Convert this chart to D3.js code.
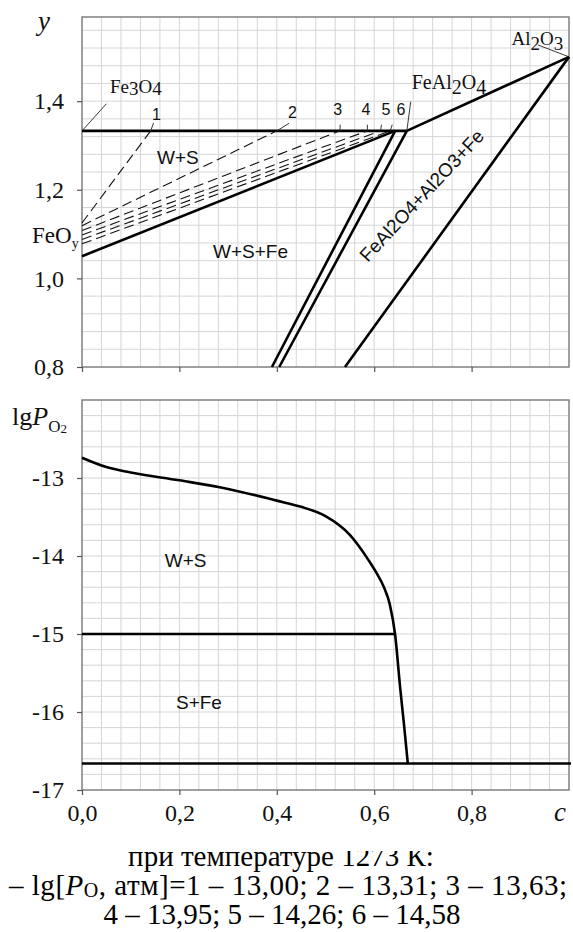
<!DOCTYPE html>
<html><head><meta charset="utf-8">
<script src="https://cdn.jsdelivr.net/npm/d3@7"></script>
<style>
html,body{margin:0;padding:0;background:#fff;}
svg{display:block;}
</style></head>
<body>
<svg id="chart" width="573" height="932"></svg>
<script>
// ---------------- data ----------------
const cTicks = [0, 0.2, 0.4, 0.6, 0.8];
const yTopTicks = [0.8, 1.0, 1.2, 1.4];
const lgTicks = [-17, -16, -15, -14, -13];

// top panel: solid phase boundaries [c, y]
const magnetiteLine = [[0, 1.333], [0.667, 1.333]];
const spinelAluminaLine = [[0.667, 1.333], [1.0, 1.5]];
const wustiteFeLine = [[0, 1.05], [0.643, 1.333]];
const tieLineA = [[0.643, 1.333], [0.39, 0.8]];
const tieLineB = [[0.667, 1.333], [0.405, 0.8]];
const aluminaLine = [[1.0, 1.5], [0.54, 0.8]];

// top panel: dashed isobars 1..6
const isobarNames = ["1", "2", "3", "4", "5", "6"];
const isobarStartY = [1.125, 1.119, 1.108, 1.098, 1.088, 1.078];
const isobarEndC = [0.141, 0.40, 0.53, 0.586, 0.613, 0.633];
const isobarEndY = 1.333;

// bottom panel: lgP(O2) vs c
const curveC   = [0, 0.05, 0.1, 0.2, 0.3, 0.4, 0.45, 0.5, 0.55, 0.588, 0.605, 0.62, 0.632, 0.643, 0.653, 0.661, 0.669];
const curveLgP = [-12.74, -12.86, -12.93, -13.03, -13.14, -13.29, -13.37, -13.49, -13.73, -14.05, -14.22, -14.40, -14.62, -15.01, -15.67, -16.15, -16.66];
const wsLine = [[0, -15.0], [0.643, -15.0]];
const feLine = [[0, -16.66], [1.004, -16.66]];

const captionLines = ["при температуре 1273 К:", "4 – 13,95; 5 – 14,26; 6 – 14,58"];
const pressures = ["1 – 13,00", "2 – 13,31", "3 – 13,63"];

// ---------------- layout ----------------
const svg = d3.select("#chart");
const L = 82, R = 569;
const x = d3.scaleLinear([0, 1], [L, R]);
const yT = d3.scaleLinear([0.8, 1.59], [367, 17]);
const yB = d3.scaleLinear([-17, -12], [790, 400]);
const serif = "Liberation Serif";
const sans = "Liberation Sans";
const gridCol = "#d6d6d6", frameCol = "#808080";

function grid(yScale, yVals) {
  const g = svg.append("g");
  const xs = d3.range(1, 25).map(i => i * 0.04);
  g.selectAll(".vx").data(xs).join("line")
    .attr("x1", d => x(d)).attr("x2", d => x(d))
    .attr("y1", yScale.range()[0]).attr("y2", yScale.range()[1])
    .attr("stroke", gridCol).attr("stroke-width", 1);
  g.selectAll(".hy").data(yVals).join("line")
    .attr("x1", L).attr("x2", R)
    .attr("y1", d => yScale(d)).attr("y2", d => yScale(d))
    .attr("stroke", gridCol).attr("stroke-width", 1);
}
grid(yT, d3.range(1, 20).map(i => 0.8 + i * 0.04));
grid(yB, d3.range(1, 25).map(i => -17 + i * 0.2));

// frames
[yT, yB].forEach(ys => {
  svg.append("rect").attr("x", L).attr("y", ys.range()[1])
    .attr("width", R - L).attr("height", ys.range()[0] - ys.range()[1])
    .attr("fill", "none").attr("stroke", frameCol).attr("stroke-width", 1.5);
});

// axes
function styleAxis(g) {
  g.attr("font-family", serif).attr("font-size", 24);
  g.select(".domain").remove();
  g.selectAll(".tick line").attr("stroke", "#555").attr("stroke-width", 1.2);
  g.selectAll(".tick text").attr("font-family", serif).attr("font-size", 24)
    .style("font-family", serif).style("font-size", "24px").attr("fill", "#111");
}
svg.append("g").attr("transform", `translate(${L},0)`)
  .call(d3.axisLeft(yT).tickValues(yTopTicks).tickSize(5).tickPadding(13).tickFormat(d => d.toFixed(1).replace(".", ",")))
  .call(styleAxis);
svg.append("g").attr("transform", `translate(0,${yT.range()[0]})`)
  .call(d3.axisBottom(x).tickValues(cTicks).tickSize(5).tickFormat(""))
  .call(styleAxis);
svg.append("g").attr("transform", `translate(${L},0)`)
  .call(d3.axisLeft(yB).tickValues(lgTicks).tickSize(5).tickPadding(13).tickFormat(d => String(d)))
  .call(styleAxis);
const xb = svg.append("g").attr("transform", `translate(0,${yB.range()[0]})`)
  .call(d3.axisBottom(x).tickValues(cTicks).tickSize(5).tickFormat(d => d.toFixed(1).replace(".", ",")))
  .call(styleAxis);
xb.selectAll(".tick text").attr("y", 31).attr("dy", 0);

// ---------------- top panel marks ----------------
const lineT = d3.line().x(d => x(d[0])).y(d => yT(d[1]));
const solidTop = [magnetiteLine, spinelAluminaLine, wustiteFeLine, tieLineA, tieLineB, aluminaLine];
svg.append("g").selectAll("path").data(solidTop).join("path")
  .attr("d", lineT).attr("fill", "none").attr("stroke", "#000").attr("stroke-width", 2.6);

const isobars = isobarNames.map((n, i) => ({ name: n, pts: [[0, isobarStartY[i]], [isobarEndC[i], isobarEndY]] }));
svg.append("g").selectAll("path").data(isobars).join("path")
  .attr("d", d => lineT(d.pts)).attr("fill", "none").attr("stroke", "#111")
  .attr("stroke-width", 1.1).attr("stroke-dasharray", "10,5");

// leaders + number labels
const numLabelPos = [[0.153, 1.3575], [0.432, 1.362], [0.525, 1.369], [0.583, 1.369], [0.624, 1.369], [0.655, 1.369]];
const numLeaderTop = [[0.147, 1.351], [0.425, 1.350], [0.53, 1.347], [0.586, 1.347], [0.615, 1.347], [0.637, 1.347]];
const annot = svg.append("g");
isobars.forEach((d, i) => {
  annot.append("line").attr("x1", x(isobarEndC[i])).attr("y1", yT(isobarEndY))
    .attr("x2", x(numLeaderTop[i][0])).attr("y2", yT(numLeaderTop[i][1]))
    .attr("stroke", "#222").attr("stroke-width", 0.9);
  annot.append("text").attr("x", x(numLabelPos[i][0])).attr("y", yT(numLabelPos[i][1]))
    .attr("text-anchor", "middle").attr("font-family", sans).attr("font-size", 16).attr("fill", "#111")
    .text(d.name);
});

// compound leaders
const compoundLeaders = [
  [[0, 1.333], [0.05, 1.394]],
  [[0.667, 1.333], [0.675, 1.399]],
  [[1.0, 1.5], [0.936, 1.527]]
];
annot.selectAll(".cl").data(compoundLeaders).join("line")
  .attr("x1", d => x(d[0][0])).attr("y1", d => yT(d[0][1]))
  .attr("x2", d => x(d[1][0])).attr("y2", d => yT(d[1][1]))
  .attr("stroke", "#222").attr("stroke-width", 0.9);

function chem(parts, px, py, size, fam) {
  const t = svg.append("text").attr("x", px).attr("y", py).attr("font-family", fam).attr("font-size", size).attr("fill", "#111");
  parts.forEach(p => {
    const s = t.append("tspan").text(p[0]);
    if (p[1]) s.attr("dy", p[1]);
    if (p[2]) s.attr("font-size", p[2]);
    if (p[3]) s.attr("font-style", p[3]);
  });
  return t;
}
chem([["Fe"], ["3", 2], ["O", -2], ["4", 2]], x(0.0575), yT(1.4184), 19, serif);
chem([["FeAl"], ["2", 5], ["O", -5], ["4", 5]], x(0.677), yT(1.4275), 20, serif);
chem([["Al"], ["2", 5], ["O", -5], ["3", 5]], x(0.882), yT(1.527), 19, serif);

// region labels
function lab(txt, c, v, ys, fs) {
  return svg.append("text").attr("x", x(c)).attr("y", ys(v)).attr("font-family", sans)
    .attr("font-size", fs || 19).attr("fill", "#111").text(txt);
}
lab("W+S", 0.154, 1.258, yT);
lab("W+S+Fe", 0.269, 1.046, yT);
svg.append("text").attr("transform", `translate(${x(0.587)},${yT(1.035)}) rotate(-47)`)
  .attr("font-family", sans).attr("font-size", 19).attr("fill", "#111").text("FeAl2O4+Al2O3+Fe");

// ---------------- bottom panel marks ----------------
const lineB = d3.line().x(d => x(d[0])).y(d => yB(d[1]));
const curvePts = curveC.map((c, i) => [c, curveLgP[i]]);
svg.append("path").datum(curvePts).attr("d", d3.line().x(d => x(d[0])).y(d => yB(d[1])).curve(d3.curveMonotoneX))
  .attr("fill", "none").attr("stroke", "#000").attr("stroke-width", 2.6);
svg.append("g").selectAll("path").data([wsLine, feLine]).join("path")
  .attr("d", lineB).attr("fill", "none").attr("stroke", "#000").attr("stroke-width", 2.4);
lab("W+S", 0.170, -14.141, yB);
lab("S+Fe", 0.193, -15.96, yB);

// ---------------- axis titles ----------------
svg.append("text").attr("x", 38).attr("y", 30).attr("font-family", serif).attr("font-style", "italic")
  .attr("font-size", 27).attr("fill", "#111").text("y");
chem([["FeO"], ["y", 5, 14]], 32, 243, 23, serif);
chem([["lg"], ["P", 0, null, "italic"], ["O", 7, 17, "normal"], ["2", 1, 13]], 12, 425, 26, serif);
svg.append("text").attr("x", 554).attr("y", 821).attr("font-family", serif).attr("font-style", "italic")
  .attr("font-size", 27).attr("fill", "#111").text("c");

// ---------------- caption ----------------
svg.append("clipPath").attr("id", "capclip").append("rect").attr("x", 0).attr("y", 851).attr("width", 573).attr("height", 100);
const cap = svg.append("g").attr("font-family", serif).attr("font-size", 29).attr("fill", "#000").attr("text-anchor", "middle");
cap.append("text").attr("x", 281).attr("y", 866).attr("clip-path", "url(#capclip)").text(captionLines[0]);
const l2 = cap.append("text").attr("x", 288).attr("y", 895).attr("textLength", 558).attr("lengthAdjust", "spacing");
l2.append("tspan").text("– lg[");
l2.append("tspan").attr("font-style", "italic").text("P");
l2.append("tspan").attr("font-size", 20).attr("dy", 2).text("O");
l2.append("tspan").attr("dy", -2).text(", атм]=" + pressures.join("; ") + ";");
cap.append("text").attr("x", 282).attr("y", 924).text(captionLines[1]);
</script>
</body></html>
